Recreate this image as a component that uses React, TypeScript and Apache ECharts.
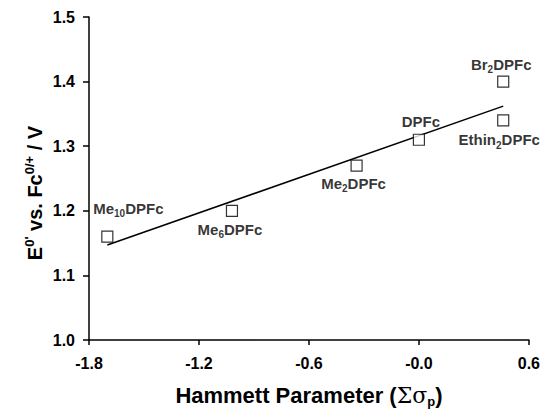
import React, { useEffect, useRef } from "react";
import * as echarts from "echarts";

// Hammett parameter (sum of sigma_p) for each diphenylferrocene derivative
const compounds = ["Me10DPFc", "Me6DPFc", "Me2DPFc", "DPFc", "Br2DPFc", "Ethin2DPFc"];
const hammett = [-1.7, -1.02, -0.34, 0.0, 0.46, 0.46];
const potentials = [1.16, 1.2, 1.27, 1.31, 1.4, 1.34];

// least-squares fit line endpoints
const fitX = [-1.7, 0.46];
const fitY = [1.147, 1.362];

const xTickLabels = ["-1.8", "-1.2", "-0.6", "-0.0", "0.6"];
const yTickLabels = ["1.0", "1.1", "1.2", "1.3", "1.4", "1.5"];

// label placement per compound: side and pixel offset
const labelPlacement: { pos: string; offset: number[] }[] = [
  { pos: "top", offset: [21, -7] },
  { pos: "bottom", offset: [-2, -3] },
  { pos: "bottom", offset: [-3, -4] },
  { pos: "top", offset: [2, 0] },
  { pos: "top", offset: [-2, 4] },
  { pos: "bottom", offset: [-4, -2] },
];

const FONT = "Liberation Sans, Arial, Helvetica, sans-serif";

function richName(name: string): string {
  return name
    .split(/(\d+)/)
    .filter((s) => s.length > 0)
    .map((s) => (/^\d+$/.test(s) ? `{s|${s}}` : `{n|${s}}`))
    .join("");
}

export default function App() {
  const ref = useRef<HTMLDivElement>(null);

  useEffect(() => {
    if (!ref.current) return;
    const chart = echarts.init(ref.current, undefined, { renderer: "svg" });

    const labelRich = {
      n: { fontSize: 15, fontWeight: "bold", fontFamily: FONT, color: "#000" },
      s: {
        fontSize: 10,
        fontWeight: "bold",
        fontFamily: FONT,
        color: "#000",
        padding: [11, 0, 0, 0],
      },
    };

    const points = hammett.map((x, i) => ({
      value: [x, potentials[i]],
      name: compounds[i],
      label: {
        show: true,
        color: "#000",
        position: labelPlacement[i].pos,
        offset: labelPlacement[i].offset,
        formatter: richName(compounds[i]),
        rich: labelRich,
      },
    }));

    chart.setOption({
      animation: false,
      backgroundColor: "#fff",
      grid: { left: 89, right: 12, top: 17, bottom: 70 },
      graphic: [
        {
          type: "text",
          x: 35,
          y: 193,
          rotation: Math.PI / 2,
          style: {
            text: "{t|E}{u|0'}{t| vs. Fc}{u|0/+}{t| / V}",
            align: "center",
            verticalAlign: "middle",
            rich: {
              t: { fontSize: 20, fontWeight: "bold", fontFamily: FONT, fill: "#000" },
              u: {
                fontSize: 13,
                fontWeight: "bold",
                fontFamily: FONT,
                fill: "#000",
                padding: [0, 0, 12, 0],
              },
            },
          },
        },
      ],
      xAxis: {
        type: "value",
        min: -1.8,
        max: 0.6,
        interval: 0.6,
        splitLine: { show: false },
        axisLine: { show: true, onZero: false, lineStyle: { color: "#000", width: 1.5 } },
        axisTick: { show: true, length: 5, lineStyle: { color: "#000", width: 1.5 } },
        axisLabel: {
          margin: 15,
          color: "#000",
          fontSize: 16,
          fontWeight: "bold",
          fontFamily: FONT,
          formatter: (v: number) => xTickLabels[Math.round((v + 1.8) / 0.6)] ?? "",
        },
        name: "{t|Hammett Parameter (}{g|Σσ}{p|p}{t|)}",
        nameLocation: "middle",
        nameGap: 43,
        nameTextStyle: {
          rich: {
            t: { fontSize: 22, fontWeight: "bold", fontFamily: FONT, color: "#000" },
            g: { fontSize: 22, fontFamily: "DejaVu Serif, serif", color: "#000" },
            p: {
              fontSize: 13,
              fontWeight: "bold",
              fontFamily: FONT,
              color: "#000",
              padding: [12, 0, 0, 0],
            },
          },
        },
      },
      yAxis: {
        type: "value",
        min: 1.0,
        max: 1.5,
        interval: 0.1,
        splitLine: { show: false },
        axisLine: { show: true, onZero: false, lineStyle: { color: "#000", width: 1.5 } },
        axisTick: { show: true, length: 6, lineStyle: { color: "#000", width: 1.5 } },
        axisLabel: {
          margin: 14,
          color: "#000",
          fontSize: 16,
          fontWeight: "bold",
          fontFamily: FONT,
          formatter: (v: number) => yTickLabels[Math.round((v - 1.0) / 0.1)] ?? "",
        },
      },
      series: [
        {
          type: "line",
          data: fitX.map((x, i) => [x, fitY[i]]),
          showSymbol: false,
          symbol: "none",
          lineStyle: { color: "#000", width: 1.5 },
          silent: true,
          z: 1,
        },
        {
          type: "scatter",
          data: points,
          symbol: "rect",
          symbolSize: 11,
          itemStyle: { color: "#fff", borderColor: "#000", borderWidth: 1.2 },
          z: 2,
        },
      ],
    });

    return () => chart.dispose();
  }, []);

  return <div ref={ref} style={{ width: 543, height: 413, position: "absolute", left: 0, top: 0 }} />;
}
